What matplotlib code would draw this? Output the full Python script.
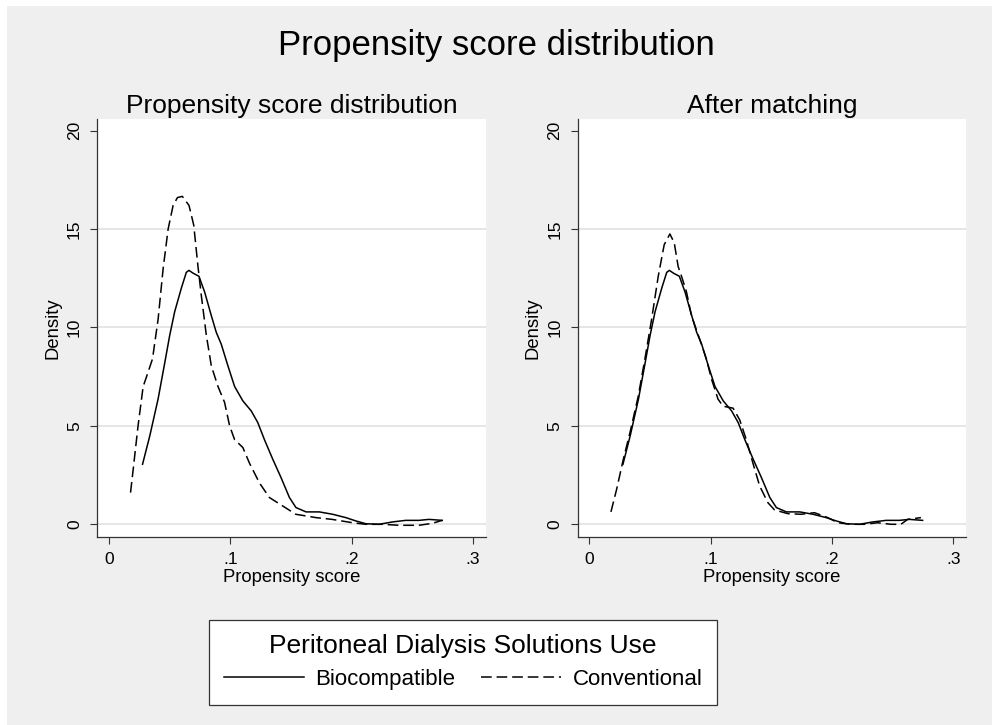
import matplotlib.pyplot as plt
from matplotlib.patches import Rectangle
from matplotlib.lines import Line2D

plt.rcParams['font.family'] = ['Liberation Sans', 'DejaVu Sans']

# Biocompatible (treated) group - same curve in both panels
bio_x = [0.0277, 0.0337, 0.0405, 0.046, 0.0501, 0.0542, 0.0597, 0.0638, 0.066,
         0.0693, 0.0742, 0.0789, 0.0844, 0.0885, 0.0926, 0.0981, 0.1036, 0.1104,
         0.1173, 0.1227, 0.1282, 0.1351, 0.1419, 0.1488, 0.1542, 0.1625, 0.1734,
         0.1844, 0.1953, 0.2036, 0.2118, 0.2227, 0.2337, 0.2447, 0.2556, 0.2638,
         0.2748]
bio_y = [3.05, 4.5, 6.36, 8.2, 9.6, 10.8, 12.0, 12.8, 12.9,
         12.76, 12.6, 11.8, 10.6, 9.75, 9.15, 8.05, 7.0, 6.27,
         5.76, 5.17, 4.3, 3.3, 2.37, 1.36, 0.85, 0.63, 0.63,
         0.51, 0.34, 0.17, 0.03, 0.0, 0.12, 0.2, 0.2, 0.25,
         0.2]

# Conventional group before matching
conv_x = [0.0178, 0.020, 0.024, 0.0282, 0.031, 0.0359, 0.0405, 0.0447, 0.0488,
          0.0529, 0.0565, 0.0605, 0.066, 0.0699, 0.0734, 0.0762, 0.0803, 0.0844,
          0.0899, 0.0953, 0.0995, 0.1036, 0.1104, 0.1159, 0.1241, 0.1323, 0.1433,
          0.154, 0.1707, 0.184, 0.2008, 0.2118, 0.2255, 0.239, 0.2556, 0.2666,
          0.2748]
conv_y = [1.61, 2.8, 5.0, 7.0, 7.5, 8.4, 10.4, 13.0, 15.0,
          16.2, 16.6, 16.66, 16.2, 15.2, 13.1, 11.6, 9.6, 8.05,
          7.0, 6.2, 5.0, 4.3, 3.9, 3.1, 2.1, 1.36, 0.93,
          0.51, 0.34, 0.25, 0.08, 0.0, 0.0, -0.05, -0.05, 0.05,
          0.2]

# Conventional group after matching
match_x = [0.0178, 0.0225, 0.028, 0.0335, 0.0403, 0.0458, 0.0513, 0.0568, 0.0617,
           0.0664, 0.070, 0.0732, 0.076, 0.0801, 0.0842, 0.091, 0.0965, 0.1006,
           0.1061, 0.1102, 0.1185, 0.124, 0.1294, 0.1349, 0.1404, 0.1472, 0.1527,
           0.1637, 0.1747, 0.1856, 0.1966, 0.2048, 0.2158, 0.2268, 0.2377, 0.2487,
           0.2569, 0.2624, 0.2734]
match_y = [0.63, 1.78, 3.3, 4.66, 6.5, 8.4, 10.4, 12.6, 14.2,
           14.75, 14.3, 13.1, 12.6, 11.8, 10.6, 9.4, 8.4, 7.4,
           6.36, 6.0, 5.9, 5.3, 4.3, 3.1, 1.95, 1.1, 0.73,
           0.54, 0.51, 0.59, 0.34, 0.08, 0.0, 0.0, 0.08, 0.0,
           0.0, 0.25, 0.34]

xticks = [0, 0.1, 0.2, 0.3]
xtick_labels = ['0', '.1', '.2', '.3']
yticks = [0, 5, 10, 15, 20]
grid_levels = [0, 5, 10, 15]

W, H = 992, 725
fig = plt.figure(figsize=(W / 100, H / 100), dpi=100)
fig.patch.set_facecolor('white')
fig.patches.append(Rectangle((7 / W, 0), 1 - 7 / W, 1 - 6 / H, transform=fig.transFigure,
                             facecolor='#efefef', edgecolor='none', zorder=-10))

fig.text(0.5, 1 - 46 / H, 'Propensity score distribution', ha='center', va='center', fontsize=25)

DASH = (7, 3.2)
panels = [
    (97.3, 'Propensity score distribution', conv_x, conv_y),
    (577.7, 'After matching', match_x, match_y),
]
for left, title, cx, cy in panels:
    ax = fig.add_axes([left / W, 1 - 537 / H, 388.5 / W, (537 - 119) / H])
    ax.set_facecolor('white')
    for g in grid_levels:
        ax.axhline(g, color='#e4e4e4', lw=1.3, zorder=0)
    ax.plot(bio_x, bio_y, color='black', lw=1.1)
    ax.plot(cx, cy, color='black', lw=1.1, dashes=DASH)
    ax.set_xlim(-0.0096, 0.3107)
    ax.set_ylim(-0.645, 20.59)
    ax.set_xticks(xticks)
    ax.set_xticklabels(xtick_labels)
    ax.set_yticks(yticks)
    for lab in ax.get_yticklabels():
        lab.set_rotation(90)
        lab.set_va('center')
    ax.tick_params(direction='out', length=5, width=0.8, color='#333333',
                   labelsize=12.5, pad=6)
    for s in ['top', 'right']:
        ax.spines[s].set_visible(False)
    for s in ['left', 'bottom']:
        ax.spines[s].set_color('#333333')
        ax.spines[s].set_linewidth(0.9)
    ax.set_xlabel('Propensity score', fontsize=13.3, labelpad=1)
    ax.set_ylabel('Density', fontsize=13.3, labelpad=4)
    ax.set_title(title, fontsize=19, pad=4)

handles = [Line2D([], [], color='black', lw=1.1),
           Line2D([], [], color='black', lw=1.1, dashes=DASH)]
leg = fig.legend(handles, ['Biocompatible', 'Conventional'], ncol=2,
                 title='Peritoneal Dialysis Solutions Use', title_fontsize=19,
                 fontsize=16, loc='center', bbox_to_anchor=(463 / W, 1 - 662 / H),
                 frameon=True, fancybox=False, edgecolor='#333333', framealpha=1,
                 handlelength=3.6, handletextpad=0.5, columnspacing=1.2,
                 borderpad=0.65, borderaxespad=0)
leg.get_frame().set_linewidth(0.9)
leg.get_frame().set_facecolor('white')

fig.savefig('out.png', dpi=100, facecolor=fig.get_facecolor())
